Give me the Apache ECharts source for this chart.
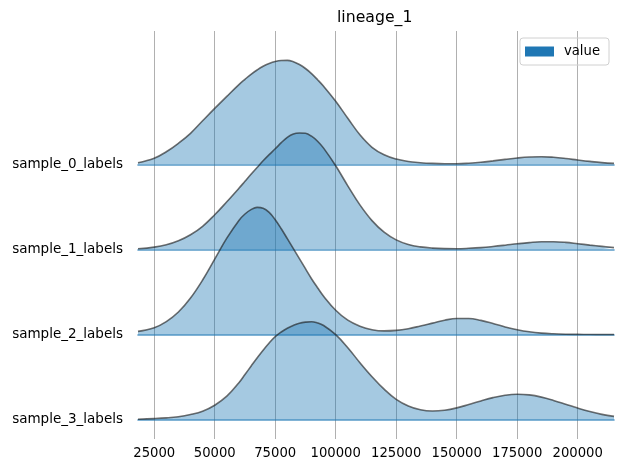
<!DOCTYPE html>
<html><head><meta charset="utf-8">
<script src="https://cdn.jsdelivr.net/npm/echarts@6/dist/echarts.min.js"></script>
<style>html,body{margin:0;padding:0;background:#fff}#c{width:624px;height:469px}</style>
</head><body><div id="c"></div>
<script>
// ---- data ----
const chartTitle = 'lineage_1';
const legendName = 'value';
const rowNames = ['sample_0_labels', 'sample_1_labels', 'sample_2_labels', 'sample_3_labels'];
const xTicks = [25000, 50000, 75000, 100000, 125000, 150000, 175000, 200000];
const xMin = 18300;
const xMax = 215000;
const xs = [18300, 25000, 30000, 35000, 40000, 45000, 50000, 55000, 60000, 62500, 65000,
            67500, 70000, 72500, 75000, 77500, 80000, 82500, 85000, 87500, 90000, 92500,
            95000, 100000, 105000, 110000, 115000, 120000, 125000, 130000, 135000, 140000,
            145000, 150000, 155000, 160000, 165000, 170000, 175000, 180000, 185000, 190000,
            195000, 200000, 205000, 210000, 215000];
// estimated KDE heights (relative density)
const sample0 = [0.015, 0.060, 0.125, 0.210, 0.310, 0.435, 0.559, 0.679, 0.797, 0.850, 0.900,
                 0.943, 0.980, 1.008, 1.028, 1.038, 1.039, 1.026, 0.998, 0.958, 0.907, 0.846,
                 0.780, 0.630, 0.460, 0.295, 0.170, 0.095, 0.053, 0.028, 0.016, 0.009,
                 0.006, 0.006, 0.011, 0.020, 0.034, 0.049, 0.063, 0.073, 0.076, 0.070,
                 0.058, 0.043, 0.029, 0.017, 0.009];
const sample1 = [0.005, 0.022, 0.045, 0.085, 0.145, 0.230, 0.345, 0.475, 0.610, 0.680, 0.750,
                 0.818, 0.885, 0.947, 1.005, 1.066, 1.120, 1.154, 1.163, 1.160, 1.131, 1.081,
                 1.012, 0.835, 0.635, 0.444, 0.287, 0.171, 0.094, 0.048, 0.024, 0.012,
                 0.007, 0.006, 0.010, 0.017, 0.028, 0.041, 0.055, 0.067, 0.075, 0.075,
                 0.069, 0.056, 0.042, 0.029, 0.017];
const sample2 = [0.033, 0.070, 0.131, 0.227, 0.367, 0.547, 0.756, 0.965, 1.143, 1.207, 1.251,
                 1.273, 1.265, 1.223, 1.150, 1.060, 0.960, 0.860, 0.760, 0.660, 0.560, 0.470,
                 0.385, 0.245, 0.145, 0.085, 0.050, 0.038, 0.043, 0.060, 0.087, 0.116,
                 0.145, 0.162, 0.162, 0.143, 0.112, 0.078, 0.050, 0.029, 0.016, 0.009,
                 0.005, 0.003, 0.0015, 0.001, 0.0005];
const sample3 = [0.005, 0.011, 0.018, 0.030, 0.052, 0.085, 0.145, 0.235, 0.370, 0.452, 0.535,
                 0.617, 0.695, 0.767, 0.830, 0.877, 0.915, 0.943, 0.965, 0.976, 0.980, 0.968,
                 0.942, 0.850, 0.720, 0.570, 0.430, 0.305, 0.203, 0.137, 0.099, 0.087,
                 0.095, 0.118, 0.152, 0.188, 0.221, 0.245, 0.255, 0.248, 0.226, 0.193,
                 0.155, 0.116, 0.081, 0.053, 0.033];
const rows = [sample0, sample1, sample2, sample3];

// ---- layout / style ----
const W = 624, H = 469;
const plotLeft = 138, plotRight = 10;
const baselines = [164.3, 249.3, 334.7, 419.7];
const ridgeHeight = 140, ridgeMax = 1.4;
const FONT = 'DejaVu Sans';

const grids = [{ left: plotLeft, right: plotRight, top: 31, bottom: H - 439 }];
const xAxes = [{
  gridIndex: 0, type: 'value', min: xMin, max: xMax,
  axisLine: { show: false },
  axisTick: { show: false, customValues: xTicks },
  axisLabel: { customValues: xTicks, formatter: v => String(v), margin: 8, fontSize: 13.2, color: '#000', fontFamily: FONT },
  splitLine: { show: true, lineStyle: { color: '#b0b0b0', width: 1 } }
}];
const yAxes = [{ gridIndex: 0, type: 'value', show: false, min: 0, max: 1 }];
const series = [];
rows.forEach((vals, i) => {
  grids.push({ left: plotLeft, right: plotRight, bottom: H - baselines[i], height: ridgeHeight });
  xAxes.push({
    gridIndex: i + 1, type: 'value', min: xMin, max: xMax,
    axisLine: { show: true, onZero: false, lineStyle: { color: 'rgba(31,119,180,0.75)', width: 1.6 } },
    axisTick: { show: false }, axisLabel: { show: false }, splitLine: { show: false }
  });
  yAxes.push({
    gridIndex: i + 1, type: 'value', min: 0, max: ridgeMax,
    axisLine: { show: false }, axisTick: { show: false }, splitLine: { show: false },
    axisLabel: {
      customValues: [0], formatter: () => rowNames[i], margin: 15, padding: [4, 0, 0, 0],
      fontSize: 13.5, color: '#000', fontFamily: FONT
    }
  });
  series.push({
    name: legendName, type: 'line', xAxisIndex: i + 1, yAxisIndex: i + 1,
    data: xs.map((x, j) => [x, vals[j]]),
    smooth: 0.4, symbol: 'none', showSymbol: false,
    itemStyle: { color: '#1f77b4' },
    lineStyle: { color: 'rgba(25,25,25,0.62)', width: 1.6 },
    areaStyle: { color: '#1f77b4', opacity: 0.4 },
    z: 2 + i
  });
});

const chart = echarts.init(document.getElementById('c'), null, { renderer: 'canvas' });
chart.setOption({
  animation: false,
  backgroundColor: '#fff',
  textStyle: { fontFamily: FONT },
  title: {
    text: chartTitle, left: 337, top: 10, padding: 0,
    textStyle: { fontSize: 15.7, fontWeight: 'normal', color: '#000', fontFamily: FONT }
  },
  legend: {
    data: [{ name: legendName, icon: 'rect' }],
    right: 15, top: 38, padding: [7, 9, 7, 5],
    itemWidth: 29, itemHeight: 10,
    borderColor: '#d0d0d0', borderWidth: 1, borderRadius: 3,
    itemStyle: { color: '#1f77b4', borderWidth: 0, opacity: 1 },
    textStyle: { fontSize: 13.2, color: '#000', fontFamily: FONT, padding: [0, 0, 0, 5] }
  },
  grid: grids,
  xAxis: xAxes,
  yAxis: yAxes,
  series: series
});
</script></body></html>
